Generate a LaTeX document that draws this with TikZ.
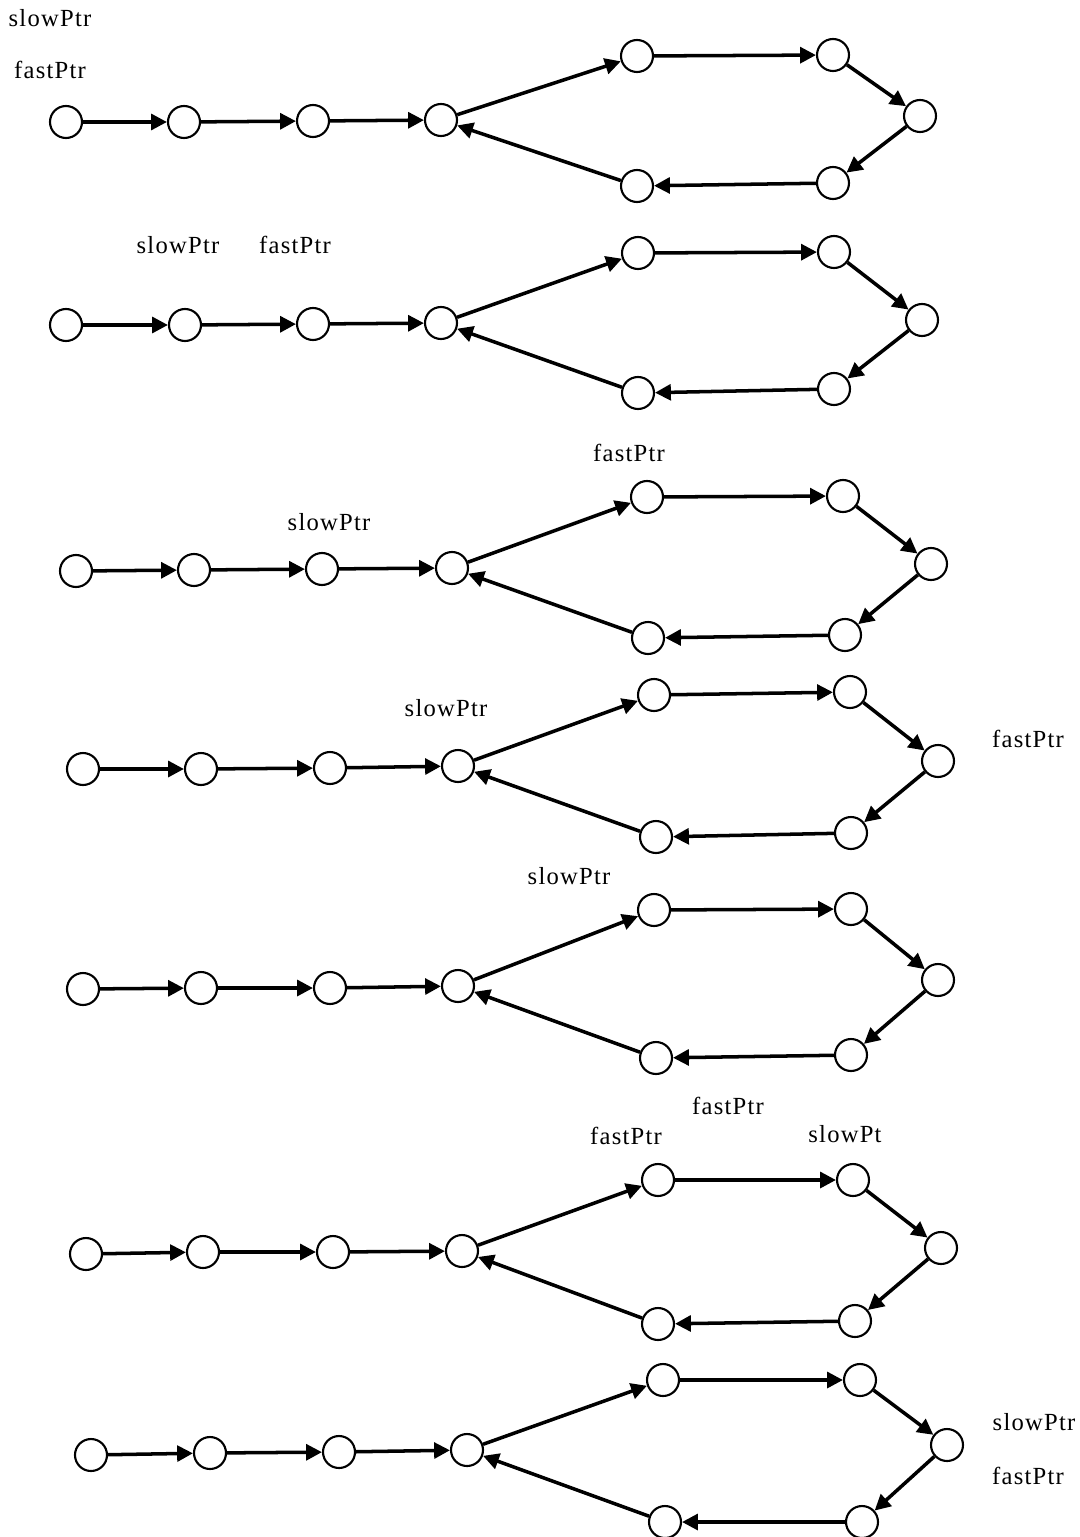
\documentclass[tikz,border=0pt]{standalone}
\usepackage{fontspec}
\setmainfont{Liberation Serif}[LetterSpace=5]
\usetikzlibrary{arrows.meta}
\begin{document}
\begin{tikzpicture}[x=.02cm,y=-.02cm,>={Triangle[length=9pt,width=9pt]},
  elem/.style={circle,draw,line width=1.2pt,minimum size=.64cm,inner sep=0pt},
  link/.style={->,line width=2pt},
  ptr/.style={font=\fontsize{14}{16}\selectfont,inner sep=0pt}]
\useasboundingbox(0,0)rectangle(1079,1537);
% one row per step of the two pointers
\foreach \r/\row in {
 1/{(66,122),(184,122),(313,121),(441,120),(637,56),(833,55),(920,116),(833,183),(637,186)},
 2/{(66,325),(185,325),(313,324),(441,323),(638,253),(834,252),(922,320),(834,389),(638,393)},
 3/{(76,571),(194,570),(322,569),(452,568),(647,497),(843,496),(931,564),(845,635),(648,638)},
 4/{(83,769),(201,769),(330,768),(458,766),(654,695),(850,692),(938,761),(851,833),(656,837)},
 5/{(83,989),(201,988),(330,988),(458,986),(654,910),(851,909),(938,980),(851,1055),(656,1058)},
 6/{(86,1254),(203,1252),(333,1252),(462,1251),(658,1180),(853,1180),(941,1248),(855,1321),(658,1324)},
 7/{(91,1455),(210,1453),(339,1452),(467,1450),(663,1380),(860,1380),(947,1445),(862,1522),(665,1522)}}
 {\foreach \p[count=\n] in \row \path\p node[elem](r\r-\n){};
  \foreach \u/\v in {1/2,2/3,3/4,4/5,5/6,6/7,7/8,8/9,9/4}\draw[link](r\r-\u)--(r\r-\v);}
% pointer labels
\node[ptr](s1)at(50,18){slowPtr};\node[ptr](f1)at(50,70){fastPtr};
\node[ptr](s2)at(178,245){slowPtr};\node[ptr](f2)at(295,245){fastPtr};
\node[ptr](s3)at(329,522){slowPtr};\node[ptr](f3)at(629,453){fastPtr};
\node[ptr](s4)at(446,708){slowPtr};\node[ptr](f4)at(1028,739){fastPtr};
\node[ptr](s5)at(569,876){slowPtr};\node[ptr](f5)at(728,1106){fastPtr};
\node[ptr](s6)at(845,1134){slowPt};\node[ptr](f6)at(626,1136){fastPtr};
\node[ptr](s7)at(1034,1422){slowPtr};\node[ptr](f7)at(1028,1476){fastPtr};
\end{tikzpicture}
\end{document}
